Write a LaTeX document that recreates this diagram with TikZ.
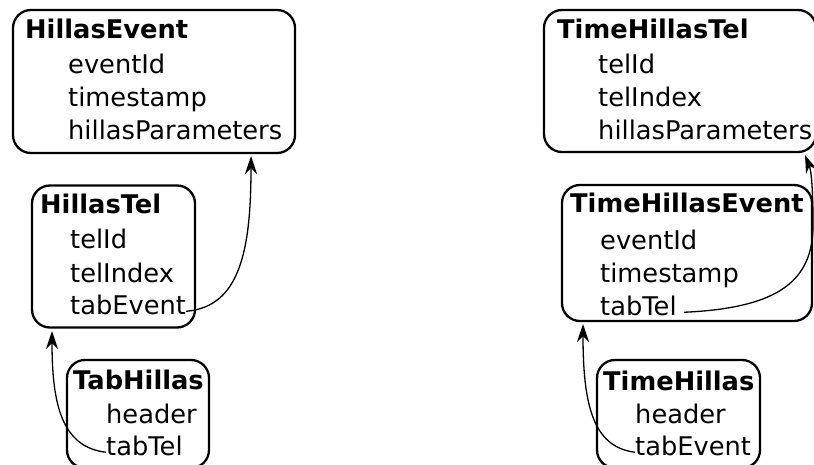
\documentclass[tikz,border=0pt]{standalone}
\usepackage{fontspec}
\setmainfont{DejaVu Sans}
\usetikzlibrary{arrows.meta}
\begin{document}
\begin{tikzpicture}[x=1pt,y=-1pt,
  box/.style={draw, line width=2.3pt, rounded corners=18pt, inner sep=0pt},
  title/.style={anchor=base west, inner sep=0pt, font=\fontsize{25.7}{31}\selectfont\bfseries},
  item/.style={anchor=base west, inner sep=0pt, font=\fontsize{25.7}{31}\selectfont},
  link/.style={line width=1.3pt, -{Stealth[length=18pt,width=12pt,inset=6pt]}}]
\useasboundingbox (0,0) rectangle (814,465);
\clip (0,0) rectangle (814,465);
% boxes
\node[box, minimum width=282pt, minimum height=143pt] (HE) at (154,81.5) {};
\node[box, minimum width=163pt, minimum height=142pt] (HT) at (113.5,256.5) {};
\node[box, minimum width=142pt, minimum height=108pt] (TH) at (138,414) {};
\node[box, minimum width=272pt, minimum height=142pt] (THT) at (680,81) {};
\node[box, minimum width=250pt, minimum height=136pt] (THE) at (687,253) {};
\node[box, minimum width=163pt, minimum height=108pt] (TS) at (678.5,414) {};
% HillasEvent
\node[title] (heT) at (25,39) {HillasEvent};
\node[item] (he1) at (68,74) {eventId};
\node[item] (he2) at (68,107) {timestamp};
\node[item] (he3) at (68,140) {hillasParameters};
% HillasTel
\node[title] (htT) at (40,214) {HillasTel};
\node[item] (ht1) at (70,249) {telId};
\node[item] (ht2) at (70,282) {telIndex};
\node[item] (ht3) at (70,314) {tabEvent};
% TabHillas
\node[title] (thT) at (73,389) {TabHillas};
\node[item] (th1) at (106,423) {header};
\node[item] (th2) at (106,455) {tabTel};
% TimeHillasTel
\node[title] (thtT) at (557,39) {TimeHillasTel};
\node[item] (tht1) at (598,74) {telId};
\node[item] (tht2) at (598,107) {telIndex};
\node[item] (tht3) at (598,140) {hillasParameters};
% TimeHillasEvent
\node[title] (theT) at (570,213) {TimeHillasEvent};
\node[item] (the1) at (600,250) {eventId};
\node[item] (the2) at (600,282) {timestamp};
\node[item] (the3) at (600,315) {tabTel};
% TimeHillas
\node[title] (tsT) at (603,390) {TimeHillas};
\node[item] (ts1) at (635,423) {header};
\node[item] (ts2) at (635,455) {tabEvent};
% connector end points
\coordinate (heIn) at (251,156);
\coordinate (htIn) at (52,331);
\coordinate (thtIn) at (805,155);
\coordinate (theIn) at (583,324);
\coordinate (theOut) at ([xshift=7pt]the3.mid east);
% connectors
\draw[link] (ht3.mid east) .. controls (240,307) and (251,250) .. (heIn);
\draw[link] (th2.mid west) .. controls (62,447) and (52,405) .. (htIn);
\draw[link] (ts2.mid west) .. controls (593,447) and (583,405) .. (theIn);
\draw[link] (theOut) .. controls (780,308) and (813,280) .. (813,225)
   .. controls (813,185) and (811,170) .. (thtIn);
\end{tikzpicture}
\end{document}
